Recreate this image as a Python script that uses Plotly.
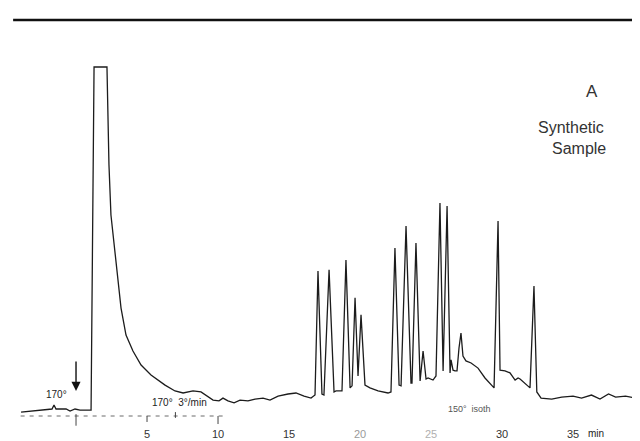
import plotly.graph_objects as go

# Chromatogram trace: retention time (min) and detector response (arbitrary units)
time_min = [
    -3.87, -3.24, -2.32, -1.69, -1.55, -1.41, -0.70, -0.42, -0.07, 0.28, 1.06,
    1.27, 2.18, 2.32, 2.46, 2.75, 2.89, 3.17, 3.52, 4.01, 4.58, 5.28, 6.27, 6.97,
    7.54, 8.24, 8.80, 9.30, 9.65, 10.07, 10.35, 10.70, 11.13, 11.55, 12.11, 12.61,
    13.17, 13.66, 14.23, 14.93, 15.49, 16.06, 16.55,
    16.83, 17.04, 17.32, 17.46, 17.82, 18.17, 18.31, 18.45, 18.73, 19.01, 19.30,
    19.44, 19.65, 19.86, 20.07, 20.35, 20.70, 21.27, 21.97, 22.18, 22.46, 22.75,
    22.89, 23.24, 23.59, 23.66, 23.94, 24.23, 24.44, 24.65, 24.79, 25.14, 25.35,
    25.63, 25.85, 26.13, 26.34, 26.41, 26.55, 26.69, 26.83, 26.97, 27.11, 27.25,
    27.46, 27.82, 28.31, 28.80, 29.23, 29.44, 29.72, 29.86, 30.21, 30.56, 30.92,
    31.13, 31.27, 31.97, 32.25, 32.45, 32.75, 33.5, 34.2, 35.0, 35.6, 36.3, 36.9,
    37.5, 38.0, 38.7, 39.4, 40.2,
]
response = [
    -1.2, -0.9, -0.6, -0.3, 0.9, -0.3, -0.3, -0.9, -0.3, -0.6, -0.6,
    100, 100, 71.3, 56.6, 44.9, 41.1, 29.3, 21.4, 16.7, 12.6, 9.7, 6.7, 5.0,
    4.4, 5.0, 4.7, 3.2, 2.3, 2.1, 2.9, 2.1, 1.5, 2.3, 2.1, 2.6,
    2.9, 2.3, 3.5, 4.1, 4.4, 3.5, 2.9,
    3.8, 40.2, 4.1, 3.8, 40.5, 4.7, 5.0, 5.0, 5.0, 43.4, 5.9,
    6.5, 32.3, 9.4, 27.3, 6.7, 5.9, 5.0, 4.4, 4.7, 46.9, 6.7,
    6.5, 53.4, 7.3, 7.3, 48.4, 7.9, 16.7, 8.5, 8.8, 8.2, 9.4,
    60.1, 10.85, 59.2, 10.3, 14.1, 11.1, 10.9, 10.9, 17.6, 22.0, 15.2,
    13.8, 13.2, 11.7, 8.8, 6.7, 5.9, 54.8, 11.1, 10.9, 10.3, 8.2,
    8.8, 8.5, 5.9, 35.8, 4.7, 2.9, 2.6, 3.2, 3.5, 2.9, 3.8, 2.6,
    4.1, 3.2, 3.5, 2.9, 3.2,
]

tick_values = [5, 10, 15, 20, 25, 30, 35]
tick_labels = ["5", "10", "15", "<span style='color:#9a9a9a'>20</span>",
               "<span style='color:#b0b0b0'>25</span>", "30", "35"]

fig = go.Figure()
fig.add_trace(go.Scatter(x=time_min, y=response, mode="lines",
                         line=dict(color="#1c1c1c", width=1.3),
                         hoverinfo="skip", showlegend=False))

# dashed baseline axis and small tick marks
fig.add_shape(type="line", x0=-3.9, x1=10.6, y0=-2.35, y1=-2.35,
              line=dict(color="#6a6a6a", width=1, dash="4px,5px"))
for tv, y0, y1 in [(0, -1.8, -5.2), (5, -2.35, -4.1), (7.0, -1.2, -2.9), (10, -2.35, -4.7)]:
    fig.add_shape(type="line", x0=tv, x1=tv, y0=y0, y1=y1,
                  line=dict(color="#444", width=1))

# top border line
fig.add_shape(type="line", xref="paper", yref="paper", x0=0.008, x1=1.0,
              y0=0.971, y1=0.971, line=dict(color="#111", width=2.5))

# injection arrow
fig.add_annotation(x=0, y=5.0, ax=0, ay=14.1, xref="x", yref="y", axref="x", ayref="y",
                   showarrow=True, arrowhead=2, arrowsize=1.3, arrowwidth=1.4,
                   arrowcolor="#111", text="")

txt = dict(family="Liberation Sans, Arial, sans-serif", color="#222")
fig.add_annotation(x=-1.35, y=4.1, text="170°", showarrow=False,
                   font=dict(size=10, **txt))
fig.add_annotation(x=7.3, y=1.5, text="170°  3°/min", showarrow=False,
                   font=dict(size=10, **txt))
fig.add_annotation(x=27.7, y=-0.3, text="150°  isoth", showarrow=False,
                   font=dict(size=9, family=txt["family"], color="#555"))
fig.add_annotation(x=36.6, y=-0.037, yref="paper", text="min", showarrow=False,
                   font=dict(size=10, **txt))
title_font = dict(family="Liberation Sans, Arial", color="#333")
fig.add_annotation(xref="paper", yref="paper", x=0.925, y=0.828, text="A",
                   showarrow=False, font=dict(size=17, **title_font))
fig.add_annotation(xref="paper", yref="paper", x=0.934, y=0.739, text="Synthetic",
                   showarrow=False, font=dict(size=16, **title_font))
fig.add_annotation(xref="paper", yref="paper", x=0.938, y=0.663, text="Sample",
                   showarrow=False, font=dict(size=16, **title_font))

fig.update_layout(
    width=640, height=441,
    margin=dict(l=0, r=0, t=0, b=23),
    paper_bgcolor="white", plot_bgcolor="white",
    xaxis=dict(range=[-4.79, 40.28], showgrid=False, zeroline=False, showline=False,
               ticks="", tickvals=tick_values, ticktext=tick_labels,
               tickfont=dict(size=11, family="Liberation Sans, Arial", color="#333")),
    yaxis=dict(range=[-5.28, 117.3], visible=False),
)

fig.write_html("out.html")
